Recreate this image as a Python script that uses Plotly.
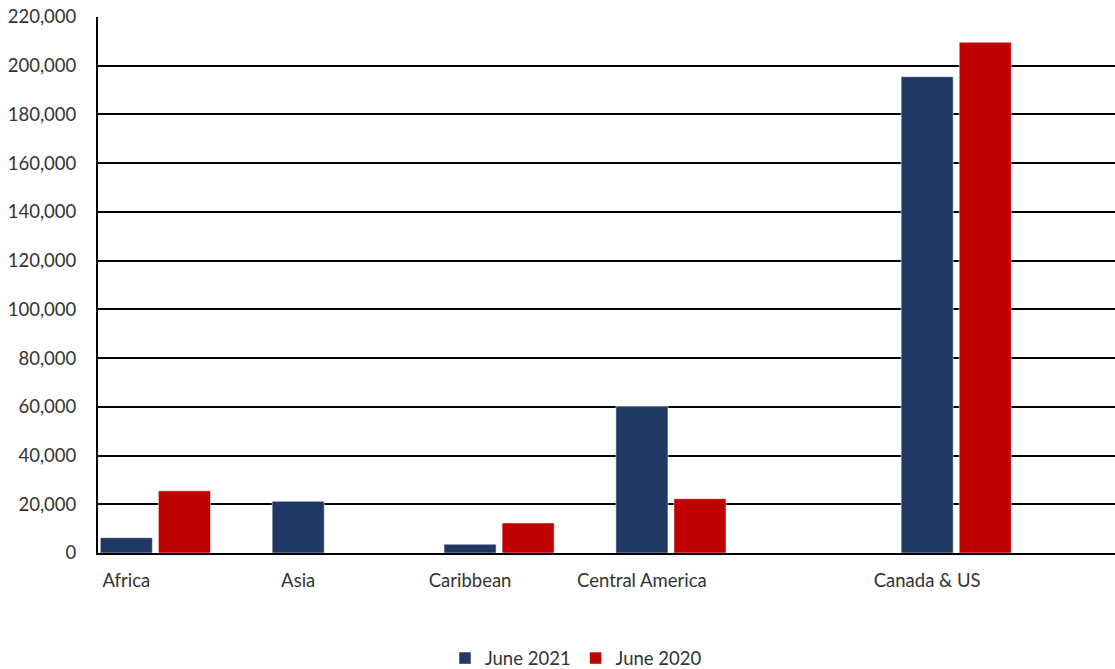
import plotly.graph_objects as go

# ---- data ----
categories = ["Africa", "Asia", "Caribbean", "Central America", "Canada & US"]
june_2021 = [6300, 21200, 3600, 60200, 195500]
june_2020 = [25500, None, 12300, 22300, 209600]
y_ticks = list(range(0, 220001, 20000))

# ---- layout helpers (category slots on the x axis; the source spaces the last group wider) ----
slots = [0, 1, 2, 3, 4.66]
bar_w = 0.303
gap = 0.035

BLUE = "#203864"
RED = "#C00000"
FONT = "Lato"
TXT = "#333333"

fig = go.Figure()
fig.add_trace(go.Bar(
    name="June 2021", x=slots, y=june_2021,
    width=bar_w, offset=-bar_w / 2,
    marker=dict(color=BLUE, line=dict(color="rgba(255,255,255,0.5)", width=1)),
))
fig.add_trace(go.Bar(
    name="June 2020", x=slots, y=june_2020,
    width=bar_w, offset=bar_w / 2 + gap,
    marker=dict(color=RED, line=dict(color="rgba(255,255,255,0.5)", width=1)),
))

fig.update_layout(
    width=1115, height=669,
    margin=dict(l=98, r=0, t=17, b=116, pad=0, autoexpand=False),
    paper_bgcolor="white", plot_bgcolor="white",
    font=dict(family=FONT, size=18.5, color=TXT),
    barmode="overlay",
    showlegend=True,
    legend=dict(
        orientation="h", x=0.47, xanchor="center", y=-0.197, yanchor="middle",
        font=dict(family=FONT, size=18.5, color=TXT), traceorder="normal",
    ),
    xaxis=dict(
        type="linear", range=[-0.165, 5.753], automargin=False,
        tickmode="array", tickvals=slots, ticktext=categories,
        showgrid=False, zeroline=False,
        showline=True, linecolor="black", linewidth=2,
        ticks="", ticklabelstandoff=10,
        tickfont=dict(family=FONT, size=18.5, color=TXT),
    ),
    yaxis=dict(
        range=[0, 220000], tickmode="array", tickvals=y_ticks, automargin=False,
        tickformat=",d",
        showgrid=True, gridcolor="black", gridwidth=2,
        zeroline=False,
        showline=True, linecolor="black", linewidth=2,
        ticks="", ticklabelstandoff=16,
        tickfont=dict(family=FONT, size=18.5, color=TXT),
    ),
)

fig.write_html(
    "out.html",
    config={"displayModeBar": False},
    post_script="document.body.style.margin='0';document.body.style.overflow='hidden';",
)
